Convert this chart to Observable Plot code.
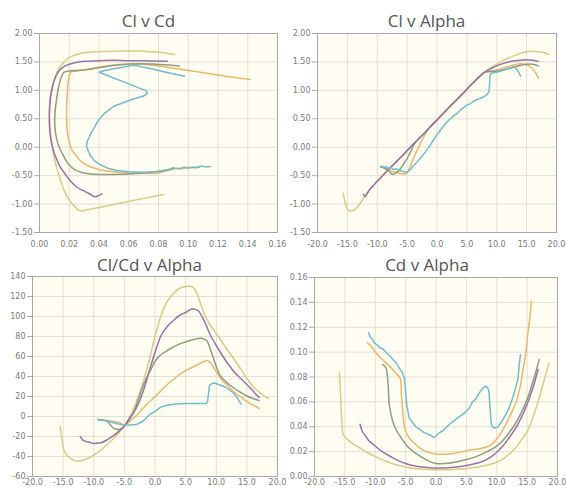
<!DOCTYPE html>
<html><head><meta charset="utf-8">
<script src="https://cdn.jsdelivr.net/npm/d3@7"></script>
<script src="https://cdn.jsdelivr.net/npm/@observablehq/plot@0.6"></script>
<style>
html,body{margin:0;padding:0;background:#fff;overflow:hidden;}
#wrap{position:relative;width:566px;height:488px;}
.title{position:absolute;font-family:"Open Sans",sans-serif;font-size:17px;line-height:1;color:#555;white-space:nowrap;transform:translateX(-50%);}
.panel{position:absolute;}
.panel svg{overflow:visible;}
</style></head><body><div id="wrap"></div>
<script>
// ---- tick values ----
const clTicks = [-1.5, -1.0, -0.5, 0, 0.5, 1.0, 1.5, 2.0];
const polarCdTicks = [0, 0.02, 0.04, 0.06, 0.08, 0.10, 0.12, 0.14, 0.16];
const alphaTicks = [-20, -15, -10, -5, 0, 5, 10, 15, 20];
const ldTicks = [-60, -40, -20, 0, 20, 40, 60, 80, 100, 120, 140];
const cdTicks = [0, 0.02, 0.04, 0.06, 0.08, 0.10, 0.12, 0.14, 0.16];

// ---- Cl v Cd (polar) ----
const polarCd_gold = [0.0836, 0.070, 0.055, 0.042, 0.032, 0.0285, 0.026, 0.0229, 0.0195, 0.0164, 0.0138, 0.0115, 0.0096, 0.0082, 0.0072, 0.0067, 0.0068, 0.0075, 0.0088, 0.0106, 0.0130, 0.0165, 0.0208, 0.0260, 0.032, 0.040, 0.050, 0.060, 0.070, 0.080, 0.0908];
const polarCl_gold = [-0.83, -0.90, -0.98, -1.05, -1.10, -1.125, -1.10, -1.02, -0.91, -0.75, -0.55, -0.35, -0.15, 0.08, 0.30, 0.50, 0.71, 0.90, 1.08, 1.24, 1.38, 1.50, 1.59, 1.64, 1.67, 1.68, 1.69, 1.69, 1.69, 1.67, 1.63];
const polarCd_purple = [0.042, 0.037, 0.033, 0.029, 0.025, 0.021, 0.0175, 0.014, 0.0115, 0.0092, 0.0077, 0.0068, 0.0066, 0.0070, 0.0080, 0.0096, 0.0118, 0.0145, 0.018, 0.023, 0.030, 0.040, 0.050, 0.060, 0.070, 0.0858];
const polarCl_purple = [-0.82, -0.87, -0.81, -0.76, -0.70, -0.60, -0.48, -0.35, -0.21, -0.05, 0.13, 0.33, 0.55, 0.78, 0.98, 1.15, 1.29, 1.38, 1.44, 1.48, 1.51, 1.52, 1.53, 1.52, 1.52, 1.51];
const polarCd_green = [0.090, 0.087, 0.075, 0.060, 0.048, 0.040, 0.034, 0.029, 0.024, 0.0195, 0.0155, 0.0125, 0.0108, 0.0102, 0.0106, 0.0115, 0.0128, 0.0145, 0.0165, 0.020, 0.025, 0.030, 0.036, 0.043, 0.051, 0.060, 0.068, 0.078, 0.094];
const polarCl_green = [-0.36, -0.39, -0.44, -0.47, -0.48, -0.48, -0.47, -0.45, -0.40, -0.30, -0.12, 0.05, 0.25, 0.45, 0.65, 0.85, 1.05, 1.22, 1.32, 1.34, 1.35, 1.36, 1.38, 1.41, 1.44, 1.46, 1.47, 1.46, 1.43];
const polarCd_orange = [0.1075, 0.104, 0.100, 0.096, 0.092, 0.088, 0.083, 0.079, 0.070, 0.060, 0.050, 0.041, 0.036, 0.032, 0.028, 0.0253, 0.022, 0.0205, 0.0192, 0.0186, 0.0182, 0.0182, 0.0186, 0.019, 0.0198, 0.0208, 0.025, 0.030, 0.036, 0.045, 0.055, 0.063, 0.070, 0.080, 0.090, 0.100, 0.110, 0.120, 0.130, 0.1416];
const polarCl_orange = [-0.34, -0.36, -0.35, -0.38, -0.37, -0.40, -0.43, -0.46, -0.46, -0.45, -0.43, -0.40, -0.36, -0.32, -0.25, -0.17, -0.06, 0.05, 0.18, 0.30, 0.50, 0.71, 0.90, 1.06, 1.22, 1.32, 1.34, 1.36, 1.39, 1.43, 1.46, 1.47, 1.46, 1.43, 1.39, 1.35, 1.31, 1.27, 1.23, 1.19];
const polarCd_cyan = [0.115, 0.112, 0.109, 0.106, 0.103, 0.100, 0.097, 0.094, 0.090, 0.086, 0.080, 0.070, 0.060, 0.052, 0.046, 0.041, 0.037, 0.0345, 0.033, 0.0315, 0.032, 0.0335, 0.035, 0.037, 0.039, 0.0415, 0.044, 0.047, 0.050, 0.054, 0.058, 0.062, 0.066, 0.070, 0.0725, 0.0715, 0.068, 0.041, 0.040, 0.044, 0.050, 0.057, 0.063, 0.066, 0.075, 0.085, 0.0975];
const polarCl_cyan = [-0.34, -0.35, -0.33, -0.36, -0.35, -0.37, -0.35, -0.38, -0.37, -0.40, -0.43, -0.44, -0.43, -0.41, -0.37, -0.31, -0.24, -0.16, -0.08, 0.02, 0.10, 0.18, 0.27, 0.35, 0.45, 0.53, 0.60, 0.66, 0.72, 0.76, 0.80, 0.84, 0.87, 0.90, 0.95, 1.00, 1.03, 1.31, 1.32, 1.35, 1.38, 1.41, 1.44, 1.43, 1.38, 1.32, 1.25];

// ---- Cl v Alpha ----
const clA_gold = [-15.7, -15.3, -15.0, -14.6, -14.0, -13.3, -12.6, -12.0, -10, -8, -6, -4, -2, 0, 2, 4, 6, 7, 8, 9, 10, 11, 12, 13, 14, 15, 16, 17, 18, 18.7];
const cl_gold = [-0.81, -1.00, -1.09, -1.12, -1.11, -1.05, -0.95, -0.84, -0.60, -0.38, -0.17, 0.05, 0.26, 0.48, 0.70, 0.91, 1.13, 1.23, 1.32, 1.40, 1.46, 1.52, 1.57, 1.61, 1.65, 1.68, 1.69, 1.68, 1.66, 1.63];
const clA_purple = [-12.3, -12.0, -11.6, -11, -10, -8, -6, -4, -2, 0, 2, 4, 6, 7, 8, 9, 10, 11, 12, 13, 14, 15, 16, 17];
const cl_purple = [-0.83, -0.87, -0.80, -0.71, -0.60, -0.38, -0.17, 0.05, 0.26, 0.48, 0.70, 0.91, 1.13, 1.23, 1.32, 1.38, 1.43, 1.47, 1.50, 1.52, 1.53, 1.54, 1.53, 1.51];
const clA_green = [-9.3, -8.8, -8.3, -7.8, -7.4, -7.0, -6.5, -6.0, -5.5, -5.0, -4.5, -4.0, -3, -2, 0, 2, 4, 6, 7, 8, 9, 10, 11, 12, 13, 14, 15, 16, 17];
const cl_green = [-0.35, -0.37, -0.40, -0.45, -0.48, -0.46, -0.42, -0.36, -0.28, -0.20, -0.10, 0.02, 0.16, 0.26, 0.48, 0.70, 0.91, 1.13, 1.23, 1.32, 1.33, 1.34, 1.36, 1.38, 1.41, 1.44, 1.46, 1.46, 1.43];
const clA_orange = [-9.3, -8.8, -8.3, -7.8, -7.3, -6.5, -5.7, -5.0, -4.5, -4.0, -3.0, -2.0, -1.0, 0, 2, 4, 6, 7, 8, 9, 10, 11, 12, 13, 14, 15, 15.5, 16, 16.5, 17];
const cl_orange = [-0.34, -0.36, -0.38, -0.41, -0.43, -0.45, -0.47, -0.45, -0.34, -0.21, 0.02, 0.22, 0.38, 0.48, 0.70, 0.91, 1.13, 1.23, 1.32, 1.34, 1.36, 1.39, 1.42, 1.45, 1.47, 1.45, 1.42, 1.38, 1.31, 1.21];
const clA_cyan = [-9.5, -9.2, -8.9, -8.5, -8.1, -7.7, -7.3, -6.8, -6.2, -5.6, -5.0, -4.5, -4.0, -3.5, -3.0, -2.5, -2.0, -1.5, -1.0, -0.5, 0, 0.5, 1, 1.5, 2, 3, 3.5, 4, 5, 5.5, 6, 6.5, 7, 7.5, 8, 8.4, 8.7, 8.9, 9.3, 10, 11, 12, 12.8, 13.3, 13.7, 14];
const cl_cyan = [-0.35, -0.33, -0.36, -0.34, -0.37, -0.36, -0.39, -0.38, -0.41, -0.43, -0.44, -0.40, -0.33, -0.28, -0.22, -0.16, -0.09, -0.02, 0.06, 0.14, 0.22, 0.29, 0.36, 0.42, 0.48, 0.57, 0.61, 0.66, 0.74, 0.76, 0.80, 0.83, 0.85, 0.87, 0.90, 0.93, 0.98, 1.28, 1.31, 1.32, 1.35, 1.39, 1.42, 1.38, 1.31, 1.25];

// ---- Cl/Cd v Alpha ----
const ldA_gold = [-15.5, -15.3, -15.1, -14.9, -14.5, -14.0, -13.5, -13.0, -12.5, -12, -11, -10, -9, -8, -7, -6, -5, -4, -3, -2, -1, 0, 1, 2, 3, 4, 5, 6, 6.5, 7, 7.5, 8, 8.5, 9, 10, 11, 12, 13, 14, 15, 16, 17, 18, 18.5];
const ld_gold = [-10, -19, -26, -33, -38, -41, -43, -44.5, -44.5, -44, -42, -38.5, -34.5, -29, -23.5, -17, -9.6, 1, 15.6, 33, 55, 80, 101, 115, 123, 128, 130, 130, 127, 121, 112, 103, 97, 91.5, 83, 74, 65, 56.5, 47.5, 38, 30, 24.5, 20, 18];
const ldA_purple = [-12.2, -11.8, -11.4, -10.8, -10, -9.4, -8.9, -8, -7.3, -6.2, -5, -4, -3, -2, -1, 0, 1, 2, 3, 4, 5, 6, 7, 8, 9, 10, 11, 12, 13, 14, 15, 16, 17];
const ld_purple = [-20, -23.5, -24.7, -25.5, -27, -26.5, -26.4, -24, -21.3, -16.3, -9.6, -1, 9, 24, 44, 64, 81, 90, 96, 101, 104, 107.5, 106, 96, 82, 71, 61, 52, 44, 38, 32, 25.5, 19];
const ldA_green = [-9.3, -8.5, -7.8, -7.3, -6.8, -6.3, -5.7, -5.0, -4.5, -4.0, -3.5, -3.0, -2.5, -2.0, -1.5, -1.0, -0.5, 0, 0.5, 1, 2, 3, 4, 5, 6, 7, 7.5, 8, 8.5, 9, 9.5, 10, 10.5, 11, 12, 13, 14, 15, 16, 17];
const ld_green = [-2.9, -3.8, -4.5, -8.5, -11.5, -12.8, -12.8, -9.6, -5, 0, 4, 12, 21, 30, 37, 43, 49, 55, 59, 62, 66, 69.5, 72.5, 74.5, 76.5, 78, 78.3, 77.5, 75.5, 68, 59, 50, 42.5, 38, 32.5, 28, 24, 20.5, 18, 16];
const ldA_orange = [-9.3, -8.8, -8.3, -7.8, -7.3, -6.5, -5.7, -5.0, -4.5, -4.0, -3.0, -2.0, -1.0, 0, 1, 2, 3, 4, 5, 6, 7, 8, 8.5, 9, 10, 11, 12, 13, 14, 15, 16, 17];
const ld_orange = [-2.9, -3.3, -3.8, -4.2, -4.6, -5.3, -6.5, -9.6, -7, -4, 1, 8, 14, 20, 26, 32, 37, 42, 46, 49, 52, 55, 56, 54, 45, 36, 30, 24, 19.5, 15, 11.5, 8];
const ldA_cyan = [-9.3, -8.5, -7.5, -6.8, -6, -5, -4, -3, -2.5, -1.9, -1.4, -0.8, 0, 0.8, 1.5, 2.2, 3, 4, 5.1, 6, 7.3, 8.0, 8.4, 8.6, 8.75, 8.9, 9.3, 9.6, 10.0, 10.8, 11.6, 12.7, 13.4, 14.05];
const ld_cyan = [-2.9, -3.5, -4.8, -6.2, -7.5, -8.2, -8.4, -7.9, -6.5, -4.5, -1, 2.2, 5, 8.9, 10.5, 11.5, 12.3, 12.8, 12.9, 13, 12.9, 12.9, 13.3, 15.6, 24, 31, 33, 33.5, 33, 31, 29, 24, 19, 12.3];

// ---- Cd v Alpha ----
const cdA_gold = [-15.9, -15.7, -15.5, -15.3, -14.8, -14.0, -13.0, -12.0, -11.0, -10.0, -9.0, -8.0, -7.0, -6.0, -5.0, -4.0, -3.0, -2.0, -1.0, 0, 1, 2, 3, 4, 5, 6, 7, 8, 9, 10, 11, 12, 13, 14, 15, 16, 17, 18, 18.6];
const cd_gold = [0.084, 0.065, 0.045, 0.034, 0.031, 0.0275, 0.0243, 0.0212, 0.0185, 0.016, 0.0138, 0.0118, 0.0101, 0.0088, 0.0077, 0.0068, 0.0062, 0.0058, 0.0056, 0.0054, 0.0054, 0.0055, 0.0057, 0.006, 0.0064, 0.007, 0.0077, 0.0086, 0.0098, 0.0115, 0.014, 0.0178, 0.0225, 0.029, 0.036, 0.048, 0.0635, 0.081, 0.091];
const cdA_purple = [-12.5, -12.1, -11.5, -11, -10, -9, -8, -7, -6, -5, -4, -3, -2, -1, 0, 1, 2, 3, 4, 5, 6, 7, 8, 9, 10, 11, 12, 13, 14, 15, 16, 16.8];
const cd_purple = [0.042, 0.036, 0.032, 0.0285, 0.0245, 0.0205, 0.0175, 0.0148, 0.0124, 0.0104, 0.0090, 0.0081, 0.0075, 0.0070, 0.0068, 0.0068, 0.0070, 0.0074, 0.0080, 0.0088, 0.0098, 0.0110, 0.0128, 0.0155, 0.0195, 0.0245, 0.031, 0.038, 0.047, 0.058, 0.072, 0.086];
const cdA_green = [-8.8, -8.5, -8.2, -7.9, -7.7, -7.4, -7.1, -6.6, -6.0, -5.0, -4.0, -3.0, -2.0, -1.0, 0, 1, 2, 3, 4, 5, 6, 7, 8, 9, 10, 11, 12, 13, 14, 15, 16, 17];
const cd_green = [0.090, 0.089, 0.087, 0.075, 0.058, 0.050, 0.044, 0.038, 0.033, 0.026, 0.021, 0.0175, 0.0145, 0.012, 0.0105, 0.0102, 0.0106, 0.0114, 0.0124, 0.0136, 0.015, 0.0168, 0.019, 0.0215, 0.0245, 0.029, 0.035, 0.042, 0.051, 0.062, 0.077, 0.094];
const cdA_orange = [-11.3, -10.7, -9.9, -8.8, -7.7, -6.6, -5.9, -5.7, -5.5, -5.3, -5.1, -4.4, -3.3, -2.5, -1.6, -0.8, 0, 1, 2.2, 3.3, 4.4, 5.5, 6.6, 7.7, 8.8, 9.9, 10.7, 11.5, 12.4, 13.2, 13.8, 14.3, 14.8, 15.1, 15.5, 15.7];
const cd_orange = [0.1075, 0.105, 0.0995, 0.094, 0.089, 0.083, 0.079, 0.067, 0.054, 0.044, 0.038, 0.031, 0.0255, 0.0225, 0.020, 0.0188, 0.018, 0.0178, 0.018, 0.019, 0.020, 0.0212, 0.022, 0.0229, 0.0247, 0.0296, 0.035, 0.042, 0.051, 0.060, 0.071, 0.085, 0.100, 0.114, 0.130, 0.141];
const cdA_cyan = [-11.1, -10.8, -10.4, -10.1, -9.9, -9.6, -9.3, -8.7, -8.2, -7.6, -7.1, -6.5, -6.0, -5.5, -5.2, -5.0, -4.8, -4.4, -3.8, -3.3, -2.7, -2.2, -1.5, -0.8, -0.5, 0, 0.5, 1.2, 2.2, 3.0, 3.8, 4.4, 4.9, 5.5, 6.0, 6.5, 7.1, 7.7, 8.1, 8.4, 8.7, 8.9, 9.1, 9.4, 9.6, 10.2, 10.8, 11.5, 12.1, 12.6, 13.1, 13.5, 13.7, 13.9];
const cd_cyan = [0.1156, 0.112, 0.110, 0.107, 0.1065, 0.1055, 0.1035, 0.1025, 0.0995, 0.097, 0.094, 0.091, 0.087, 0.083, 0.079, 0.068, 0.057, 0.047, 0.043, 0.040, 0.038, 0.036, 0.0345, 0.033, 0.0315, 0.0325, 0.035, 0.037, 0.042, 0.045, 0.048, 0.050, 0.052, 0.055, 0.060, 0.062, 0.067, 0.071, 0.0725, 0.072, 0.069, 0.055, 0.042, 0.0395, 0.039, 0.040, 0.044, 0.050, 0.056, 0.063, 0.071, 0.079, 0.090, 0.098];

// ---- series styling (drawing order) ----
const seriesKeys = ["gold", "orange", "green", "purple", "cyan"];
const seriesColors = {gold: "#dacb86", orange: "#eab86c", green: "#8e9e80", purple: "#9a72a6", cyan: "#74bcca"};

const src = {
  polar: {gold: [polarCd_gold, polarCl_gold], purple: [polarCd_purple, polarCl_purple], green: [polarCd_green, polarCl_green], orange: [polarCd_orange, polarCl_orange], cyan: [polarCd_cyan, polarCl_cyan]},
  cl: {gold: [clA_gold, cl_gold], purple: [clA_purple, cl_purple], green: [clA_green, cl_green], orange: [clA_orange, cl_orange], cyan: [clA_cyan, cl_cyan]},
  ld: {gold: [ldA_gold, ld_gold], purple: [ldA_purple, ld_purple], green: [ldA_green, ld_green], orange: [ldA_orange, ld_orange], cyan: [ldA_cyan, ld_cyan]},
  cd: {gold: [cdA_gold, cd_gold], purple: [cdA_purple, cd_purple], green: [cdA_green, cd_green], orange: [cdA_orange, cd_orange], cyan: [cdA_cyan, cd_cyan]}
};

function rows(pair) {
  const [xs, ys] = pair;
  const n = Math.min(xs.length, ys.length);
  const out = [];
  for (let i = 0; i < n; i++) out.push({x: xs[i], y: ys[i]});
  return out;
}

const wrap = document.getElementById("wrap");

function panel(cfg) {
  const lines = seriesKeys.map(k => Plot.line(rows(src[cfg.key][k]), {
    x: "x", y: "y", stroke: seriesColors[k], strokeWidth: 1.5,
    curve: k === "cyan" ? "linear" : "catmull-rom"
  }));
  const svg = Plot.plot({
    width: cfg.width, height: cfg.height,
    marginTop: cfg.mt, marginRight: cfg.mr, marginBottom: cfg.mb, marginLeft: cfg.ml,
    style: {fontFamily: "'DejaVu Sans', sans-serif", fontSize: "8px", background: "transparent", overflow: "visible"},
    x: {domain: cfg.xDomain, label: null},
    y: {domain: cfg.yDomain, label: null},
    marks: [
      Plot.frame({fill: "#fffdf1"}),
      Plot.gridX(cfg.xTicks, {stroke: "#e2e0d4", strokeOpacity: 1}),
      Plot.gridY(cfg.yTicks, {stroke: "#e2e0d4", strokeOpacity: 1}),
      ...lines,
      Plot.frame({stroke: "#a8a8a8"}),
      Plot.axisY(cfg.yTicks, {tickSize: 5, tickPadding: 2, tickFormat: cfg.yFmt, stroke: "#aaa", fill: "#7a7a7a", fontSize: 8}),
      Plot.axisX(cfg.xTicks, {tickSize: 0, tickPadding: cfg.xPad, tickFormat: cfg.xFmt, fill: "#7a7a7a", fontSize: 8})
    ]
  });
  const div = document.createElement("div");
  div.className = "panel";
  div.style.left = cfg.left + "px";
  div.style.top = cfg.top + "px";
  div.appendChild(svg);
  wrap.appendChild(div);
  const t = document.createElement("div");
  t.className = "title";
  t.textContent = cfg.title;
  t.style.left = cfg.tx + "px";
  t.style.top = cfg.ty + "px";
  wrap.appendChild(t);
}

const f2 = d => d.toFixed(2);
const f1 = d => d.toFixed(1);
const f0 = d => String(d);

panel({key: "polar", title: "Cl v Cd", tx: 148.5, ty: 12, left: 0, top: 0, width: 283, height: 250, mt: 33, mr: 6, mb: 18, ml: 39,
  xDomain: [0, 0.16], yDomain: [-1.5, 2.0], xTicks: polarCdTicks, yTicks: clTicks, xFmt: f2, yFmt: f2, xPad: 9});
panel({key: "cl", title: "Cl v Alpha", tx: 426.5, ty: 12, left: 283, top: 0, width: 283, height: 250, mt: 33, mr: 10, mb: 18, ml: 34,
  xDomain: [-20, 20], yDomain: [-1.5, 2.0], xTicks: alphaTicks, yTicks: clTicks, xFmt: f1, yFmt: f2, xPad: 9});
panel({key: "ld", title: "Cl/Cd v Alpha", tx: 149.5, ty: 256, left: 0, top: 244, width: 283, height: 244, mt: 32, mr: 6, mb: 12, ml: 32,
  xDomain: [-20, 20], yDomain: [-60, 140], xTicks: alphaTicks, yTicks: ldTicks, xFmt: f1, yFmt: f0, xPad: 3});
panel({key: "cd", title: "Cd v Alpha", tx: 427, ty: 256, left: 283, top: 244, width: 283, height: 244, mt: 33, mr: 9, mb: 12, ml: 31,
  xDomain: [-20, 20], yDomain: [0, 0.16], xTicks: alphaTicks, yTicks: cdTicks, xFmt: f1, yFmt: f2, xPad: 3});
</script>
</body></html>
